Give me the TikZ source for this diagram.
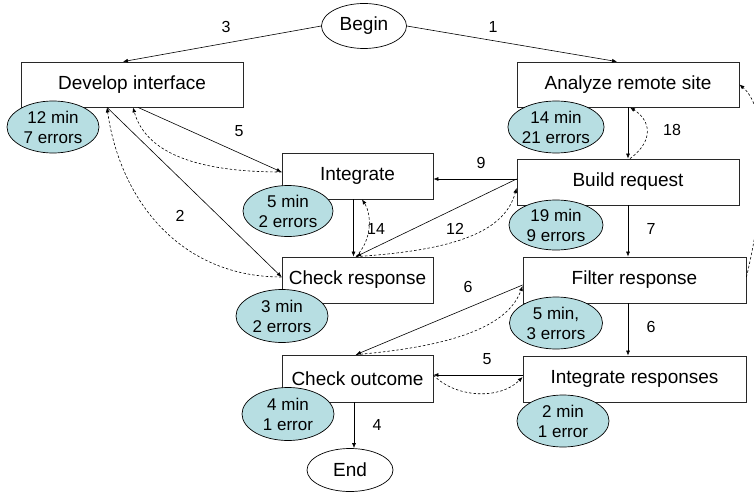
\documentclass[tikz,border=0pt]{standalone}
\usepackage{fontspec}
\setmainfont{Liberation Sans}
\usetikzlibrary{shapes.geometric,arrows.meta,calc}
\definecolor{stat}{RGB}{183,222,226}
\definecolor{edgegray}{RGB}{40,40,40}
\begin{document}
\begin{tikzpicture}[x=1pt,y=-1pt,
  box/.style={draw=edgegray,line width=0.8pt,rectangle,inner sep=0pt,fill=white,
    font=\fontsize{19}{22}\selectfont},
  term/.style={draw=black,line width=0.7pt,ellipse,inner sep=0pt,fill=white,
    font=\fontsize{19}{22}\selectfont},
  statbox/.style={draw=black,line width=0.7pt,ellipse,inner sep=0pt,fill=stat,
    align=center,font=\fontsize{17}{20}\selectfont},
  lbl/.style={inner sep=0pt,font=\fontsize{16}{18}\selectfont},
  conn/.style={line width=0.6pt,draw=black,-{Latex[length=5pt,width=4pt]}},
  back/.style={conn,dash pattern=on 2.5pt off 2pt}
]
\useasboundingbox (0,0) rectangle (754,492);

% terminals
\node[term,minimum width=85pt,minimum height=45pt] (begin) at (364,26) {Begin};
\node[term,minimum width=86pt,minimum height=43pt] (end) at (350,470) {End};

% boxes
\node[box,minimum width=222pt,minimum height=45pt] (dev) at (132,84.5) {Develop interface};
\node[box,minimum width=222pt,minimum height=45pt] (ana) at (628,84.5) {Analyze remote site};
\node[box,minimum width=151pt,minimum height=46pt] (integ) at (357.5,176) {Integrate};
\node[box,minimum width=222pt,minimum height=46pt] (build) at (628,182) {Build request};
\node[box,minimum width=151pt,minimum height=46pt] (chkresp) at (357.5,280) {Check response};
\node[box,minimum width=223pt,minimum height=46pt] (filter) at (634.5,280) {Filter response};
\node[box,minimum width=151pt,minimum height=47pt] (chkout) at (357.5,378.5) {Check outcome};
\node[box,minimum width=223pt,minimum height=46pt] (intresp) at (634.5,379) {Integrate responses};

% edges
\draw[conn] (begin.west) -- ([xshift=-9pt]dev.north);
\draw[conn] (begin.east) -- ([xshift=-11pt]ana.north);

\draw[conn] ([xshift=6pt]dev.south) -- ([yshift=4pt]integ.west);
\draw[back] ([yshift=4pt]integ.west) .. controls (190,172) and (145,150) .. ([xshift=1pt]dev.south);

\draw[conn] ([xshift=-25pt]dev.south) -- ([yshift=3pt]chkresp.west);
\draw[back] ([yshift=3pt]chkresp.west) .. controls (180,277) and (120,200) .. ([xshift=-25pt]dev.south);

\draw[conn] ([xshift=-4pt]integ.south) -- ([xshift=-4pt]chkresp.north);
\draw[back] ([xshift=-1.5pt]chkresp.north) .. controls (372,240) and (372,215) .. ([xshift=4.5pt]integ.south);

\draw[conn] ([yshift=3pt]build.west) -- ([yshift=-3pt]integ.east);
\draw[conn] ([yshift=3pt]build.west) -- ([xshift=-1.5pt]chkresp.north);
\draw[back] ([xshift=-1.5pt]chkresp.north) .. controls (460,250) and (505,230) .. ([yshift=-6pt]build.west);

\draw[conn] (ana.south) -- (build.north);
\draw[back] ([xshift=2pt]build.north) .. controls (655,140) and (650,120) .. ([xshift=2pt]ana.south);

\draw[conn] (build.south) -- ([xshift=-6.5pt]filter.north);

\draw[conn] ([yshift=-5pt]filter.west) -- ([xshift=-1.5pt]chkout.north);
\draw[back] ([xshift=-1.5pt]chkout.north) .. controls (470,345) and (510,320) .. ([yshift=-6pt]filter.west);

\draw[conn] ([xshift=-6.5pt]filter.south) -- ([xshift=-6.5pt]intresp.north);

\draw[conn] ([yshift=4pt]intresp.west) -- ([yshift=3.5pt]chkout.east);
\draw[back] ([yshift=3.5pt]chkout.east) .. controls (455,398) and (500,400) .. ([yshift=2pt]intresp.west);

\draw[back] ([yshift=3pt]filter.east) .. controls (765,200) and (770,110) .. (ana.east);

\coordinate (outdown) at ([xshift=-3.5pt]chkout.south);
\draw[conn] (outdown) -- (outdown |- end.north);

% statistics ellipses
\node[statbox,minimum width=92pt,minimum height=52pt] (s1) at (53,127) {12 min\\7 errors};
\node[statbox,minimum width=94pt,minimum height=52pt] (s2) at (556,127) {14 min\\21 errors};
\node[statbox,minimum width=90pt,minimum height=51pt] (s3) at (288,211) {5 min\\2 errors};
\node[statbox,minimum width=94pt,minimum height=50pt] (s4) at (556,225) {19 min\\9 errors};
\node[statbox,minimum width=92pt,minimum height=53pt] (s5) at (282,316) {3 min\\2 errors};
\node[statbox,minimum width=93pt,minimum height=52pt] (s6) at (556,323) {5 min,\\3 errors};
\node[statbox,minimum width=92pt,minimum height=53pt] (s7) at (288,414) {4 min\\1 error};
\node[statbox,minimum width=92pt,minimum height=52pt] (s8) at (563,421) {2 min\\1 error};

% edge labels
\node[lbl] (l3) at (226,27) {3};
\node[lbl] (l1) at (493,27) {1};
\node[lbl] (l5a) at (239,131) {5};
\node[lbl] (l2) at (180,216) {2};
\node[lbl] (l9) at (481,163) {9};
\node[lbl] (l18) at (672,130) {18};
\node[lbl] (l14) at (376,229) {14};
\node[lbl] (l12) at (455,229) {12};
\node[lbl] (l7) at (651,229) {7};
\node[lbl] (l6a) at (468,287) {6};
\node[lbl] (l6b) at (651,327) {6};
\node[lbl] (l5b) at (487,359) {5};
\node[lbl] (l4) at (377,425) {4};
\end{tikzpicture}
\end{document}
